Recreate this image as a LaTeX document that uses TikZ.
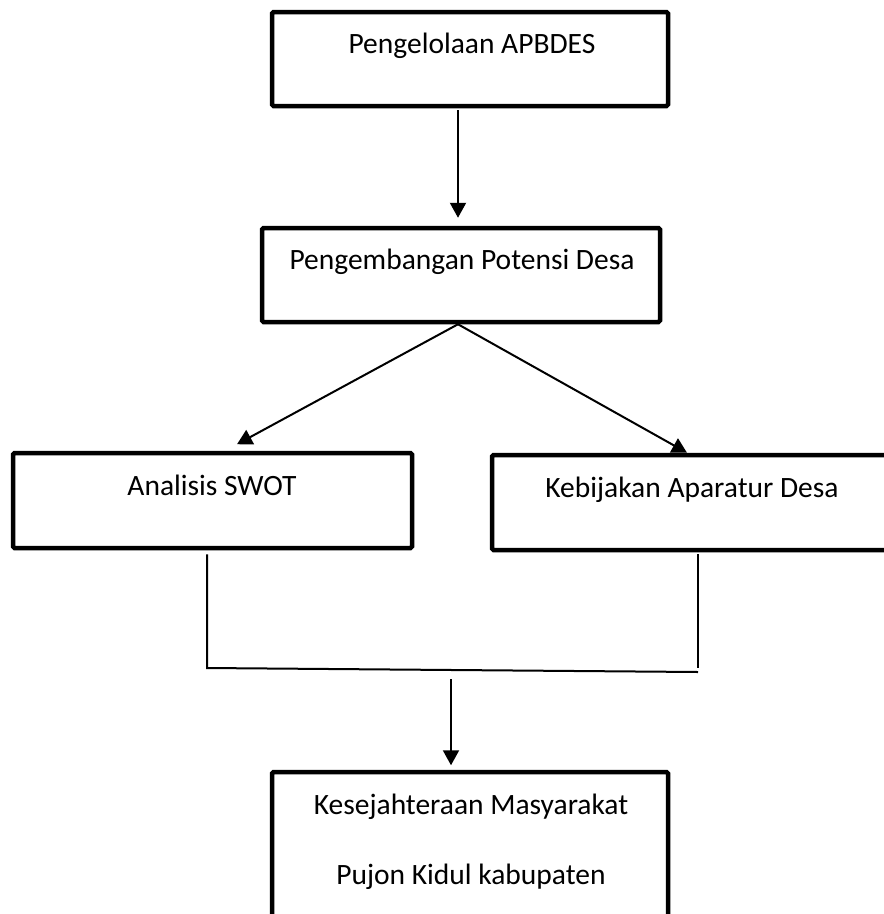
\documentclass[tikz,border=0pt]{standalone}
\usepackage{fontspec}
\setmainfont{Carlito}
\usetikzlibrary{arrows.meta}

\begin{document}
\begin{tikzpicture}[x=1pt,y=-1pt,
  kotak/.style={draw,line width=4.5pt,rounded corners=1.5pt,inner sep=0pt},
  teks/.style={anchor=base,font=\fontsize{29.5}{35}\selectfont},
  panah/.style={-{Triangle[length=15pt,width=16pt]},line width=2pt},
  garis/.style={line width=2pt}]
\useasboundingbox (0,0) rectangle (884,914);
\clip (0,0) rectangle (884,914);
\node [kotak,minimum width=396pt,minimum height=94pt] (apbdes) at (470,59) {};
\node [kotak,minimum width=398pt,minimum height=94pt] (potensi) at (461,275) {};
\node [kotak,minimum width=399pt,minimum height=95pt] (swot) at (212.5,500.5) {};
\node [kotak,minimum width=408pt,minimum height=95pt] (aparatur) at (696,502.5) {};
\node [kotak,minimum width=396pt,minimum height=153pt] (sejahtera) at (470,848.5) {};
\node [teks] (tapbdes) at (472,53) {Pengelolaan APBDES};
\node [teks] (tpotensi) at (462,269) {Pengembangan Potensi Desa};
\node [teks] (tswot) at (212,495) {Analisis SWOT};
\node [teks] (taparatur) at (692,497) {Kebijakan Aparatur Desa};
\node [teks] (tsejahtera) at (471,814) {Kesejahteraan Masyarakat};
\node [teks] (tpujon) at (471,884) {Pujon Kidul kabupaten};
\coordinate (kiri) at (207,668);
\coordinate (kanan) at (698,672);
\coordinate (tengah) at (451,679);
\draw [panah] ([xshift=-12pt,yshift=-2pt]apbdes.south) to ([xshift=-3pt,yshift=8pt]potensi.north);
\draw [panah] ([xshift=-3pt]potensi.south) to ([xshift=24.5pt,yshift=6.5pt]swot.north);
\draw [panah] ([xshift=-3pt]potensi.south) to ([xshift=-9pt]aparatur.north);
\draw [garis] ([xshift=-5.5pt,yshift=-4pt]swot.south) to (kiri) to (kanan);
\draw [garis] ([xshift=2pt,yshift=-2pt]aparatur.south) to ([yshift=4pt]kanan);
\draw [panah] (tengah) to ([xshift=-19pt,yshift=4.5pt]sejahtera.north);
\end{tikzpicture}
\end{document}
